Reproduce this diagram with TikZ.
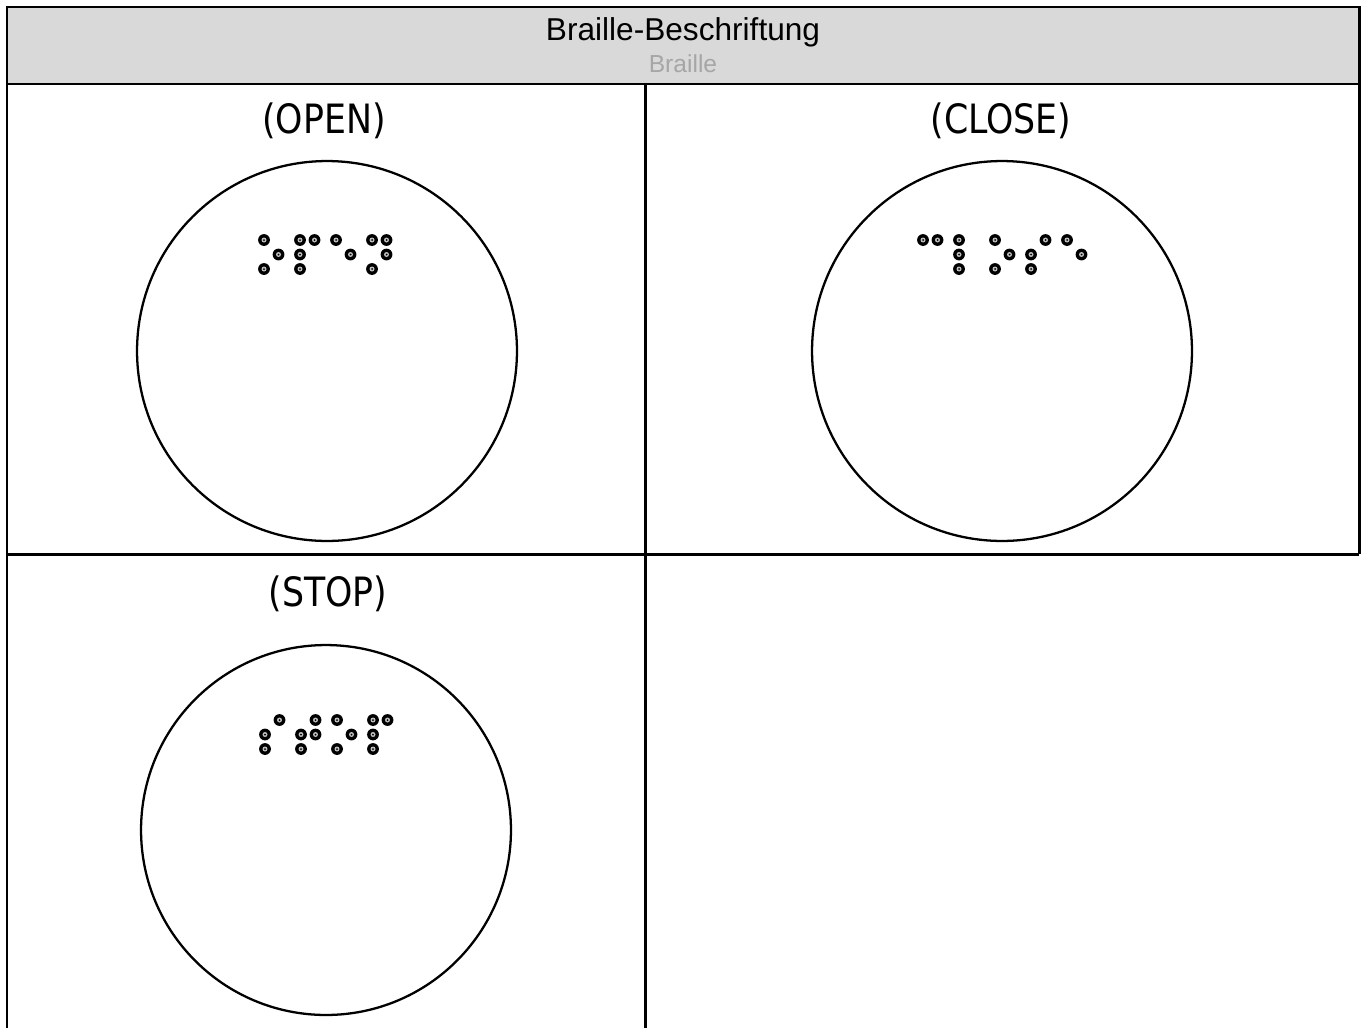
\documentclass[tikz,border=0pt]{standalone}
\usepackage{fontspec}
\setmainfont{Liberation Sans}
\newfontfamily\isofont[FakeStretch=0.86]{DejaVu Sans}
\usetikzlibrary{positioning}

\definecolor{headgray}{HTML}{D9D9D9}
\definecolor{subgray}{HTML}{A6A6A6}

\tikzset{
	grid/.style={line width=1.7pt},
	button/.style={circle, draw, line width=1.3pt, minimum size=7.6cm, inner sep=0pt},
	caption/.style={font=\isofont\fontsize{23}{23}\selectfont, anchor=base}
}

% braille cells: {x}{y}{{dots},{dots},...}
\newcommand{\brailleword}[3]{%
	\foreach \cell [count=\i from 0] in {#3} {
		\foreach \d in \cell {
			\pgfmathsetmacro\cx{#1+36*\i+14.5*int((\d-1)/3)}
			\pgfmathsetmacro\cy{#2+14.5*mod(\d-1,3)}
			\fill (\cx,\cy) circle [radius=5.9];
			\fill[gray!50] (\cx,\cy) circle [radius=2.5];
			\fill (\cx,\cy) circle [radius=1];
		}
	}
}

\begin{document}
\begin{tikzpicture}[x=0.02cm, y=-0.02cm]
		\useasboundingbox (0,0) rectangle (1364,1028);

		% table
		\fill[headgray] (7,7) rectangle (1359,84);
		\draw[grid] (7,1028) -- (7,7) -- (1359,7) -- (1359,554);
		\draw[grid] (7,84) -- (1359,84);
		\draw[grid] (7,554) -- (1359,554);
		\draw[grid] (645,84) -- (645,1028);

		\draw (683,40) node [anchor=base, font=\fontsize{18}{18}\selectfont] (title){Braille-Beschriftung};
		\draw (683,72) node [anchor=base, text=subgray, font=\fontsize{14}{14}\selectfont] (subtitle){Braille};

		\draw (324,133) node [caption] (open){(OPEN)};
		\draw (1001,133) node [caption] (close){(CLOSE)};
		\draw (328,606) node [caption] (stop){(STOP)};

		\draw (327,351) node [button] (openbtn){};
		\draw (1002,351) node [button] (closebtn){};
		\draw (326,830) node [button, minimum size=7.4cm] (stopbtn){};

		\brailleword{264}{240}{{1,3,5},{1,2,3,4},{1,5},{1,3,4,5}}
		\brailleword{923}{240}{{1,4},{1,2,3},{1,3,5},{2,3,4},{1,5}}
		\brailleword{265}{720}{{2,3,4},{2,3,4,5},{1,3,5},{1,2,3,4}}
	\end{tikzpicture}
\end{document}
